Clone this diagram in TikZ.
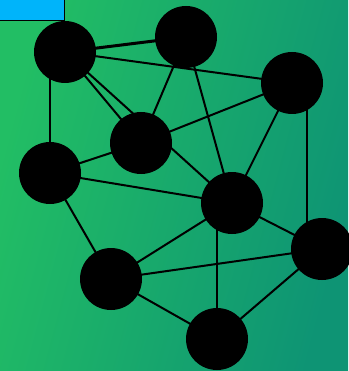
\documentclass[tikz,border=0pt]{standalone}
\usetikzlibrary{calc}
\definecolor{bgleft}{RGB}{34,190,100}
\definecolor{bgright}{RGB}{14,148,116}
\definecolor{boxblue}{RGB}{0,180,250}
\tikzset{
  vertex/.style={circle, fill=black, draw=none, minimum size=62pt, inner sep=0pt},
  link/.style={draw=black, line width=2pt},
  heavylink/.style={draw=black, line width=3pt},
}
\begin{document}
\begin{tikzpicture}[x=1pt, y=-1pt]
\useasboundingbox (0,0) rectangle (348,371);
\shade[left color=bgleft, right color=bgright, shading angle=75] (0,0) rectangle (348,371);
\node[draw=black, line width=1.3pt, fill=boxblue, minimum width=70pt, minimum height=26pt, inner sep=0pt, anchor=south east] (box) at (65,21) {};
\coordinate (A) at (65,52);
\coordinate (B) at (186,37);
\coordinate (C) at (292,83);
\coordinate (D) at (141,143);
\coordinate (E) at (50,173);
\coordinate (F) at (232,203);
\coordinate (G) at (322,249);
\coordinate (H) at (111,279);
\coordinate (I) at (217,339);
\coordinate (cg) at ($(C)!0.5!(G)$);
% edges
\draw[heavylink] (A) -- (B);
\draw[link] (A) -- (C);
\draw[link] (A) -- (D);
\draw[link] (A) -- (F);
\draw[link] (E |- A) -- (E);
\draw[link] (B) -- (D);
\draw[link] (B) -- (F);
\draw[link] (C) -- (D);
\draw[link] (C) -- (F);
\draw[link] (cg |- C) -- (cg |- G);
\draw[link] (D) -- (E);
\draw[link] (E) -- (F);
\draw[link] (E) -- (H);
\draw[link] (F) -- (H);
\draw[link] (F) -- (G);
\draw[link] (I |- F) -- (I);
\draw[link] (G) -- (H);
\draw[link] (G) -- (I);
\draw[link] (H) -- (I);
% vertices
\foreach \n in {A,B,C,D,E,F,G,H,I} {
  \node[vertex] (v\n) at (\n) {};
}
\end{tikzpicture}
\end{document}
